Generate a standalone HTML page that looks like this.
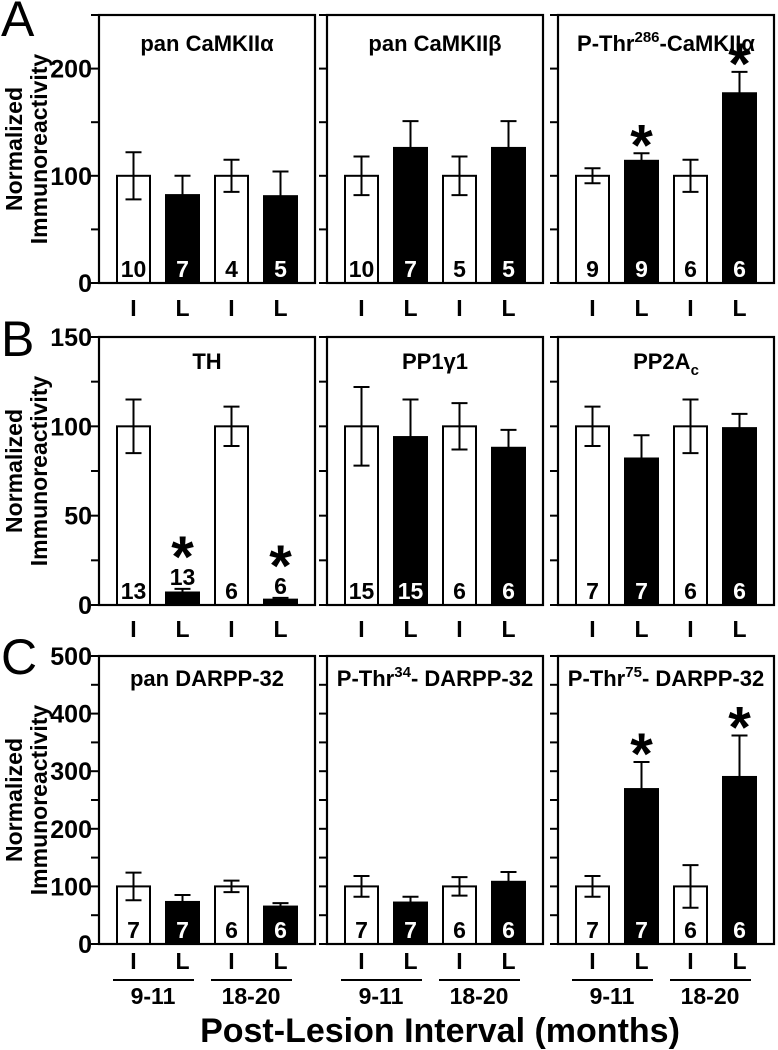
<!DOCTYPE html>
<html><head><meta charset="utf-8"><style>
html,body{margin:0;padding:0;background:#fff}
svg{display:block;font-family:"Liberation Sans",Arial,sans-serif;font-weight:bold}
</style></head><body>
<svg id="fig" width="778" height="1050" viewBox="0 0 778 1050"></svg>
<script>
// Panel data
const rowA_titles = ["pan CaMKIIα","pan CaMKIIβ","P-Thr286-CaMKIIα"];
const rowA_means = [[100,82,100,81],[100,126,100,126],[100,114,100,177]];
const rowA_errs  = [[22,18,15,23],[18,25,18,25],[7,7,15,20]];
const rowA_n     = [[10,7,4,5],[10,7,5,5],[9,9,6,6]];
const rowA_sig   = [[0,0,0,0],[0,0,0,0],[0,1,0,1]];
const rowA_ticks = [0,100,200];

const rowB_titles = ["TH","PP1γ1","PP2Ac"];
const rowB_means = [[100,7,100,3],[100,94,100,88],[100,82,100,99]];
const rowB_errs  = [[15,2,11,1],[22,21,13,10],[11,13,15,8]];
const rowB_n     = [[13,13,6,6],[15,15,6,6],[7,7,6,6]];
const rowB_sig   = [[0,1,0,1],[0,0,0,0],[0,0,0,0]];
const rowB_ticks = [0,50,100,150];

const rowC_titles = ["pan DARPP-32","P-Thr34- DARPP-32","P-Thr75- DARPP-32"];
const rowC_means = [[100,73,100,65],[100,72,100,108],[100,269,100,290]];
const rowC_errs  = [[24,12,10,6],[18,10,16,17],[18,47,37,72]];
const rowC_n     = [[7,7,6,6],[7,7,6,6],[7,7,6,6]];
const rowC_sig   = [[0,0,0,0],[0,0,0,0],[0,1,0,1]];
const rowC_ticks = [0,100,200,300,400,500];

const groupLabels = ["I","L","I","L"];
const intervalLabels = ["9-11","18-20"];

const NS="http://www.w3.org/2000/svg";
const svg=document.getElementById('fig');
function mk(tag,attrs,parent){const e=document.createElementNS(NS,tag);for(const k in attrs)e.setAttribute(k,attrs[k]);(parent||svg).appendChild(e);return e;}
function txt(s,x,y,size,anchor,fill,parent){const t=mk('text',{x:x,y:y,'font-size':size,'text-anchor':anchor||'middle',fill:fill||'#000'},parent);t.textContent=s;return t;}

const panelLeft=[99,327,558];
const panelW=216;
const rows=[
 {letter:"A",top:15,zero:283,max:250,minor:50,titles:rowA_titles,means:rowA_means,errs:rowA_errs,n:rowA_n,sig:rowA_sig,ticks:rowA_ticks,labY:316,titleY:51,nAbove:false,ly:36},
 {letter:"B",top:337,zero:605,max:150,minor:25,titles:rowB_titles,means:rowB_means,errs:rowB_errs,n:rowB_n,sig:rowB_sig,ticks:rowB_ticks,labY:637,titleY:369,nAbove:true,ly:356},
 {letter:"C",top:656,zero:944,max:500,minor:50,titles:rowC_titles,means:rowC_means,errs:rowC_errs,n:rowC_n,sig:rowC_sig,ticks:rowC_ticks,labY:969,titleY:686,nAbove:false,ly:674}
];

rows.forEach((r,ri)=>{
  const g=mk('g',{});
  
  
  const yS=v=>r.zero-(v/r.max)*(r.zero-r.top);
  const L=txt(r.letter,1,r.ly,50,'start','#000',g);
  L.setAttribute('font-weight','normal');
  
  
  const cy=(r.top+r.zero)/2;
  const yt=mk('g',{transform:'translate(0,'+cy+') rotate(-90)'},g);
  
  
  txt('Normalized',0,22,23,'middle','#000',yt);
  txt('Immunoreactivity',0,47,23,'middle','#000',yt);
  r.ticks.forEach(t=>{
    const tl=txt(String(t),92,yS(t)+9,25,'end','#000',g);
    
    
  });
  for(let p=0;p<3;p++){
    const x0=panelLeft[p], x1=x0+panelW;
    const pg=mk('g',{},g);
    
    
    for(let v=0;v<=r.max+0.01;v+=r.minor){
      mk('line',{x1:x0-8,x2:x0,y1:yS(v),y2:yS(v),stroke:'#000','stroke-width':2},pg);
    }
    const means=r.means[p],errs=r.errs[p],ns=r.n[p],sig=r.sig[p];
    means.forEach((m,i)=>{
      const bx=x0+18+i*49, bw=33, cxm=bx+bw/2;
      const dark=i%2==1;
      const b=mk('rect',{x:bx,y:yS(m),width:bw,height:r.zero-yS(m),fill:dark?'#000':'#fff',stroke:'#000','stroke-width':2},pg);
      
      
      const e=errs[i];
      const eb=mk('path',{d:`M${cxm},${yS(m+e)}V${yS(Math.max(0,m-e))}M${cxm-8},${yS(m+e)}H${cxm+8}M${cxm-8},${yS(Math.max(0,m-e))}H${cxm+8}`,stroke:'#000','stroke-width':2,fill:'none'},pg);
      
      
      let ny=r.zero-6, nfill=dark?'#fff':'#000';
      let topY=yS(m+e);
      if(r.nAbove && m<20){ ny=topY-4; nfill='#000'; topY=ny-20; }
      const nl=txt(String(ns[i]),cxm,ny,23,'middle',nfill,pg);
      
      
      if(sig[i]){
        const s=txt('*',cxm,topY+12,58,'middle','#000',pg);
        
        
      }
      const gl=txt(groupLabels[i],cxm,r.labY,23,'middle','#000',pg);
      
      
    });
    mk('rect',{x:x0,y:r.top,width:panelW,height:r.zero-r.top,fill:'none',stroke:'#000','stroke-width':2.2},pg);
    const tt=mk('text',{x:(x0+x1)/2,y:r.titleY,'font-size':22,'text-anchor':'middle'},pg);
    
    
    const ttl=r.titles[p];
    const m=ttl.match(/^(.*?Thr)(\d+)(.*)$/);
    if(m){
      tt.appendChild(document.createTextNode(m[1]));
      const sup=mk('tspan',{dy:-9,'font-size':15},tt);sup.textContent=m[2];
      const rest=mk('tspan',{dy:9},tt);rest.textContent=m[3];
    } else if(ttl==="PP2Ac"){
      tt.appendChild(document.createTextNode("PP2A"));
      const sub=mk('tspan',{dy:6,'font-size':15},tt);sub.textContent="c";
    } else tt.textContent=ttl;
    if(r.letter==="C"){
      for(let k=0;k<2;k++){
        const lx=x0+14+k*98;
        mk('line',{x1:lx,x2:lx+81,y1:980,y2:980,stroke:'#000','stroke-width':2},pg);
        const il=txt(intervalLabels[k],lx+40,1004,23,'middle','#000',pg);
        
        
      }
    }
  }
});
const xt=txt('Post-Lesion Interval (months)',440,1042,34,'middle','#000');


</script>
</body></html>
